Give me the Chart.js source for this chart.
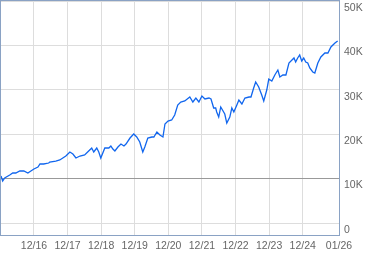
<!DOCTYPE html>
<html>
<head>
<meta charset="utf-8">
<script src="https://cdn.jsdelivr.net/npm/chart.js@4/dist/chart.umd.min.js"></script>
<style>
html,body{margin:0;padding:0;background:#fff;}
canvas{display:block;}
</style>
</head>
<body>
<canvas id="c" width="379" height="255"></canvas>
<script>
// Time (decimal years) and portfolio value (thousands)
const dates = [
2015.94,2015.99,2016.05,2016.20,2016.29,2016.38,2016.50,2016.62,2016.74,2016.83,
2016.92,2017.04,2017.10,2017.21,2017.36,2017.39,2017.57,2017.69,2017.78,2017.87,
2017.99,2018.08,2018.17,2018.29,2018.43,2018.58,2018.64,2018.70,2018.79,2018.85,
2018.91,2019.03,2019.15,2019.21,2019.27,2019.33,2019.42,2019.51,2019.60,2019.66,
2019.78,2019.89,2019.98,2020.07,2020.16,2020.22,2020.31,2020.43,2020.49,2020.58,
2020.67,2020.76,2020.82,2020.91,2021.02,2021.11,2021.20,2021.29,2021.41,2021.56,
2021.65,2021.74,2021.83,2021.92,2022.01,2022.13,2022.19,2022.27,2022.33,2022.36,
2022.42,2022.48,2022.60,2022.66,2022.75,2022.81,2022.87,2022.96,2023.02,2023.11,
2023.20,2023.32,2023.38,2023.46,2023.52,2023.61,2023.70,2023.76,2023.85,2023.91,
2024.00,2024.09,2024.18,2024.24,2024.33,2024.42,2024.51,2024.60,2024.66,2024.71,
2024.77,2024.83,2024.89,2024.95,2025.01,2025.07,2025.13,2025.22,2025.28,2025.37,
2025.46,2025.58,2025.67,2025.76,2025.88,2025.96
];
const values = [
10.59,9.46,10.14,10.81,11.26,11.26,11.71,11.71,11.26,11.71,
12.16,12.61,13.29,13.29,13.51,13.74,13.96,14.19,14.64,15.09,
15.99,15.54,14.64,15.09,15.32,16.44,16.89,15.99,16.89,15.99,
14.64,16.89,16.89,17.34,16.67,16.22,17.12,17.79,17.34,17.79,
19.14,20.05,19.37,18.24,15.99,17.12,19.14,19.37,19.37,20.50,
19.82,19.37,22.30,22.97,23.20,24.32,26.58,27.25,27.48,28.38,
27.25,28.15,27.25,28.60,27.93,28.15,27.93,25.90,25.90,25.00,
23.87,26.13,24.55,22.52,23.87,25.90,25.00,26.58,27.70,26.80,
28.15,28.38,28.38,30.41,31.76,30.63,28.83,27.48,29.95,32.43,
31.98,33.33,34.46,32.88,33.33,33.33,36.04,36.71,37.16,36.26,
37.16,37.84,36.49,37.16,36.26,36.04,34.91,34.01,33.78,36.04,
37.39,38.29,38.29,39.64,40.54,40.99
];
const xTickValues = [2016.92,2017.92,2018.92,2019.92,2020.92,2021.92,2022.92,2023.92,2024.92,2026.0];
const xTickLabels = ['12/16','12/17','12/18','12/19','12/20','12/21','12/22','12/23','12/24','01/26'];
const yTickValues = [0,10,20,30,40,50];
const yTickLabels = ['0','10K','20K','30K','40K','50K'];
const baselineValue = 10;

const borderPlugin = {
  id: 'frame',
  beforeDatasetsDraw(chart) {
    const a = chart.chartArea, c = chart.ctx;
    c.save();
    c.strokeStyle = '#8aa2c4';
    c.lineWidth = 1;
    c.strokeRect(a.left - 0.5, a.top - 0.5, a.right - a.left + 1, a.bottom - a.top + 1);
    c.restore();
  }
};

new Chart(document.getElementById('c'), {
  type: 'line',
  data: {
    datasets: [{
      data: dates.map((d, i) => ({x: d, y: values[i]})),
      borderColor: '#1166ee',
      borderWidth: 1.3,
      pointRadius: 0,
      tension: 0,
      fill: false
    }]
  },
  options: {
    responsive: false,
    devicePixelRatio: 1,
    animation: false,
    layout: {padding: {left: 1, top: 1, right: 0, bottom: 0}},
    plugins: {legend: {display: false}, tooltip: {enabled: false}},
    scales: {
      x: {
        type: 'linear',
        min: 2015.94,
        max: 2026.0,
        afterBuildTicks: s => { s.ticks = xTickValues.map(v => ({value: v})); },
        afterFit: s => { s.height = 20; s.paddingLeft = 0; s.paddingRight = 0; },
        border: {display: false},
        grid: {color: '#dddddd', lineWidth: 1, drawTicks: false},
        ticks: {
          autoSkip: false, maxRotation: 0, padding: 5,
          color: '#666', font: {family: 'Liberation Sans, Arial', size: 10.5},
          callback: (v) => xTickLabels[xTickValues.indexOf(v)]
        }
      },
      y: {
        position: 'right',
        min: -2.7,
        max: 50,
        afterBuildTicks: s => { s.ticks = yTickValues.map(v => ({value: v})); },
        afterFit: s => { s.width = 40; s.paddingTop = 0; s.paddingBottom = 0; },
        border: {display: false},
        grid: {
          color: ctx => (ctx.tick && ctx.tick.value === baselineValue) ? '#999999' : '#dddddd',
          lineWidth: 1, drawTicks: false
        },
        ticks: {
          padding: 5, labelOffset: 7,
          color: '#666', font: {family: 'Liberation Sans, Arial', size: 10.5},
          callback: (v) => yTickLabels[yTickValues.indexOf(v)]
        }
      }
    }
  },
  plugins: [borderPlugin]
});
</script>
</body>
</html>
